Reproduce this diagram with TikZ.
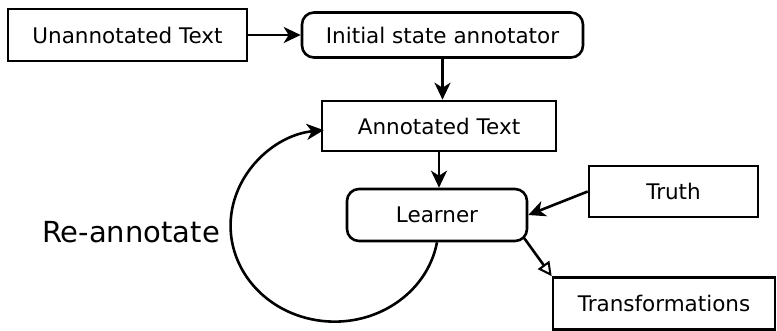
\documentclass[tikz,border=0pt]{standalone}
\usepackage{fontspec}
\setmainfont{DejaVu Sans}
\usetikzlibrary{arrows.meta,calc}
\begin{document}
\begin{tikzpicture}[x=1pt,y=-1pt,
  box/.style={draw, line width=2.6pt, inner sep=0pt, font=\fontsize{21.5}{25}\selectfont},
  rbox/.style={box, rounded corners=12pt},
  arr/.style={line width=2.6pt, -{Stealth[length=17pt,width=16pt,inset=5pt]}},
  oarr/.style={line width=2.6pt, -{Triangle[open,length=14pt,width=14pt,line width=2pt]}}]
\useasboundingbox (0,0) rectangle (777,331);
\node[box, minimum width=239pt, minimum height=52pt] (unann) at (127.5,35) {Unannotated Text};
\node[rbox, minimum width=281pt, minimum height=45pt] (init) at (442.5,35) {Initial state annotator};
\node[box, minimum width=234pt, minimum height=50pt] (annot) at (439,126) {Annotated Text};
\node[rbox, minimum width=180pt, minimum height=52pt] (learner) at (437,215) {Learner};
\node[box, minimum width=169pt, minimum height=51pt] (truth) at (673.5,191.5) {Truth};
\node[box, minimum width=222pt, minimum height=52pt] (trans) at (664,303.5) {Transformations};
\node[font=\fontsize{29}{33}\selectfont, anchor=base east, inner sep=0pt] (re) at (220,243) {Re-annotate};
\draw[arr] (unann.east) -- (init.west);
\draw[arr] (init.south) -- (init.south |- annot.north);
\draw[arr] (annot.south) -- (annot.south |- learner.north);
\draw[arr] (truth.west) -- (learner.east);
\draw[oarr] ([xshift=-4pt,yshift=4pt]learner.south east) -- (trans.north west);
\draw[arr] (learner.south) arc[start angle=-10, end angle=-264, x radius=104pt, y radius=96pt];
\end{tikzpicture}
\end{document}
